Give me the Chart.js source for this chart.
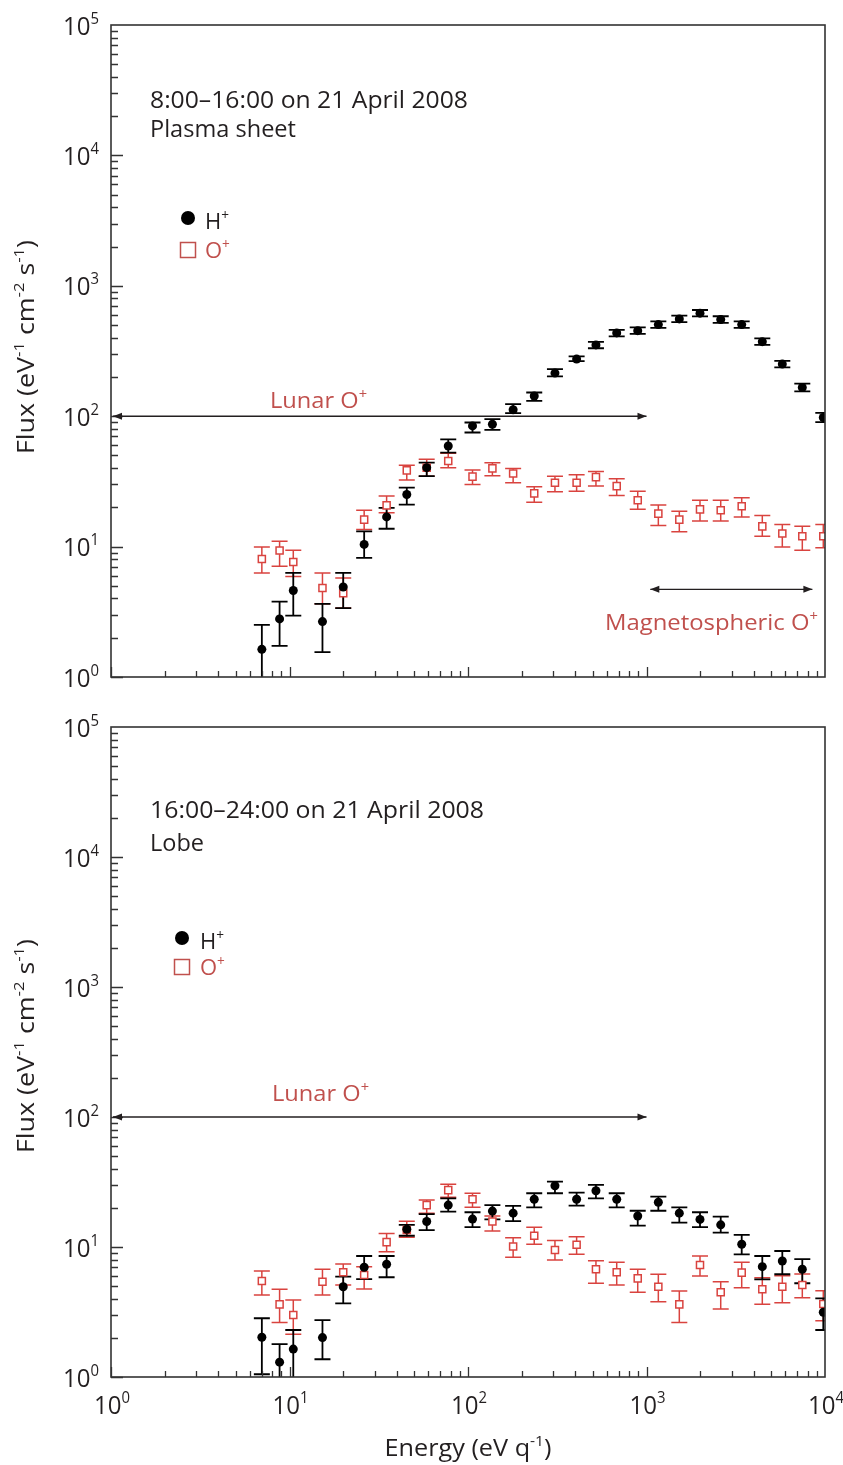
<!DOCTYPE html>
<html>
<head>
<meta charset="utf-8">
<script src="https://cdn.jsdelivr.net/npm/chart.js@4.4.0/dist/chart.umd.min.js"></script>
<style>
html, body { margin: 0; padding: 0; background: #fff; }
#wrap { position: relative; width: 843px; height: 1465px; }
canvas { position: absolute; left: 0; }
</style>
</head>
<body>
<div id="wrap">
  <canvas id="grafico-topo" width="843" height="700" style="top:0"></canvas>
  <canvas id="grafico-baixo" width="843" height="765" style="top:700px"></canvas>
</div>
<script>
// energy channels (eV/q), shared by both panels
var energy = [7.0, 8.8, 10.5, 15.3, 20.0, 26.2, 35.0, 45.4, 58.7, 77.5, 106, 137, 179, 235,
              307, 406, 521, 681, 893, 1165, 1527, 1994, 2605, 3415, 4454, 5766, 7462, 9783];

// 8:00-16:00, plasma sheet
var hTop   = [1.63, 2.79, 4.61, 2.66, 4.9, 10.4, 16.9, 25.1, 40.3, 59.1, 84.2, 86.8, 112, 143,
              214, 274, 352, 435, 453, 504, 557, 617, 551, 504, 373, 251, 166, 97.7];
var hTopLo = [0.8, 1.73, 2.96, 1.55, 3.38, 8.19, 13.7, 21.0, 34.7, 52.6, 75, 78.5, 105.5, 131,
              202, 264, 332, 410, 428, 476, 526, 582, 520, 476, 352, 237, 155, 90];
var hTopHi = [2.51, 3.78, 6.28, 3.64, 6.28, 13.1, 19.8, 28.3, 44, 66.5, 89.5, 94.9, 123.7, 152,
              230, 288, 372, 460, 480, 534, 590, 652, 584, 534, 395, 266, 178, 106];
var oTop   = [8.04, 9.32, 7.63, 4.81, 4.40, 16.1, 20.7, 38.4, 40.3, 45.3, 34.4, 39.8, 36.4, 25.6,
              30.9, 30.9, 34.1, 29.1, 22.7, 17.9, 16.1, 19.3, 19.0, 20.4, 14.3, 12.6, 12.0, 12.0];
var oTopLo = [6.28, 7.06, 5.91, 3.64, 3.38, 13.5, 18.2, 32.4, 34.7, 40.3, 30.0, 35, 30.9, 21.9,
              26.3, 26.6, 29.1, 24.7, 19.3, 14.5, 13.0, 15.7, 15.7, 16.9, 12.0, 9.95, 9.37, 9.78];
var oTopHi = [9.95, 11.0, 9.37, 6.28, 5.74, 19.0, 24.4, 42, 46.7, 51.9, 38.6, 44, 39.8, 28.8,
              34.7, 35.5, 37.6, 33.2, 26.6, 20.8, 18.7, 22.7, 22.7, 23.7, 17.3, 14.8, 14.3, 14.8];

// 16:00-24:00, lobe
var hBot   = [2.02, 1.30, 1.64, 2.01, 4.95, 6.98, 7.36, 13.7, 15.7, 21.0, 16.4, 18.9, 18.2, 23.3,
              29.6, 23.3, 27.1, 23.3, 17.3, 22.1, 18.2, 16.3, 14.8, 10.5, 7.06, 7.8, 6.74, 3.15];
var hBotLo = [1.05, 0.8, 0.8, 1.37, 3.69, 5.67, 5.85, 12.2, 13.5, 18.7, 14.2, 16.3, 15.8, 20.2,
              25.9, 20.8, 23.7, 20.2, 14.6, 19.0, 15.4, 14.2, 12.9, 8.79, 5.64, 6.17, 5.26, 2.30];
var hBotHi = [2.83, 1.79, 2.30, 2.74, 5.91, 8.53, 8.53, 14.8, 17.9, 23.7, 18.5, 21.0, 20.7, 25.9,
              31.8, 26.2, 30.0, 25.9, 19.0, 24.4, 20.2, 18.5, 17.1, 12.4, 8.53, 9.32, 8.08, 4.03];
var oBot   = [5.48, 3.62, 3.0, 5.41, 6.39, 6.09, 10.9, 13.5, 21.0, 27.4, 23.3, 15.7, 10.1, 12.2,
              9.48, 10.4, 6.74, 6.39, 5.74, 4.95, 3.62, 7.27, 4.48, 6.35, 4.73, 4.95, 5.1, 3.64];
var oBotLo = [4.27, 2.62, 2.13, 4.27, 5.1, 4.75, 9.2, 11.9, 18.2, 24.1, 20.2, 13.3, 8.33, 10.5,
              7.94, 8.79, 5.26, 5.1, 4.48, 3.8, 2.62, 5.98, 3.33, 4.86, 3.62, 3.73, 4.07, 2.71];
var oBotHi = [6.54, 4.73, 3.91, 6.74, 7.4, 7.06, 12.7, 15.8, 23.0, 30.4, 25.9, 17.3, 11.8, 14.2,
              11.2, 12.0, 7.85, 7.63, 6.74, 6.17, 4.59, 8.53, 5.41, 7.63, 5.81, 6.01, 6.2, 4.61];

var fluxTicks = [1, 10, 100, 1000, 10000, 100000];
var energyTicks = [1, 10, 100, 1000, 10000];

// arrows: [from eV, to eV, flux]
var lunarArrow = [1, 1000, 100];
var magArrow = [1050, 8500, 4.7];

var FONT = '"Open Sans", "Noto Sans", sans-serif';
var INK = '#231f20';
var RED = '#d9433f';
var RED_TXT = '#c0504d';

// text with superscripts, squeezed to a given width when asked
function drawRich(ctx, parts, x, y, o) {
  var size = o.size, supSize = size * (o.supRatio || 0.62);
  ctx.save();
  ctx.fillStyle = o.color || INK;
  ctx.textBaseline = 'alphabetic';
  ctx.textAlign = 'left';
  var w = 0;
  parts.forEach(function (p) {
    ctx.font = (p[1] ? supSize : size) + 'px ' + FONT;
    w += ctx.measureText(p[0]).width;
  });
  var sx = o.width ? o.width / w : (o.sx || 1);
  ctx.translate(x, y);
  if (o.rotate) ctx.rotate(o.rotate);
  ctx.scale(sx, 1);
  var cx = o.align === 'center' ? -w / 2 : (o.align === 'right' ? -w : 0);
  parts.forEach(function (p) {
    ctx.font = (p[1] ? supSize : size) + 'px ' + FONT;
    ctx.fillText(p[0], cx, p[1] ? -size * 0.42 : 0);
    cx += ctx.measureText(p[0]).width;
  });
  ctx.restore();
}

function arrow(ctx, x1, y1, x2, y2, both) {
  ctx.save();
  ctx.strokeStyle = INK; ctx.fillStyle = INK; ctx.lineWidth = 1.4;
  ctx.beginPath(); ctx.moveTo(x1, y1); ctx.lineTo(x2, y2); ctx.stroke();
  function head(x, y, dir) {
    ctx.beginPath();
    ctx.moveTo(x, y);
    ctx.lineTo(x - dir * 9, y - 3.5);
    ctx.lineTo(x - dir * 9, y + 3.5);
    ctx.closePath(); ctx.fill();
  }
  head(x2, y2, 1);
  if (both) head(x1, y1, -1);
  ctx.restore();
}

function pts(y, lo, hi) {
  return energy.map(function (e, i) { return { x: e, y: y[i], lo: lo[i], hi: hi[i] }; });
}

var errorBars = {
  id: 'errorBars',
  beforeDatasetsDraw: function (chart) {
    var ctx = chart.ctx, a = chart.chartArea, xs = chart.scales.x, ys = chart.scales.y;
    ctx.save();
    ctx.beginPath(); ctx.rect(a.left, a.top, a.right - a.left, a.bottom - a.top); ctx.clip();
    chart.data.datasets.slice().reverse().forEach(function (ds) {
      ctx.strokeStyle = ds.borderColor;
      ctx.lineWidth = ds.errWidth;
      ctx.beginPath();
      ds.data.forEach(function (p) {
        var x = xs.getPixelForValue(p.x);
        var y0 = ys.getPixelForValue(p.lo), y1 = ys.getPixelForValue(p.hi);
        ctx.moveTo(x, y0); ctx.lineTo(x, y1);
        ctx.moveTo(x - 8, y0); ctx.lineTo(x + 8, y0);
        ctx.moveTo(x - 8, y1); ctx.lineTo(x + 8, y1);
      });
      ctx.stroke();
    });
    ctx.restore();
  }
};

var frame = {
  id: 'frame',
  afterDraw: function (chart, args, opts) {
    var ctx = chart.ctx, a = chart.chartArea, xs = chart.scales.x, ys = chart.scales.y;
    ctx.save();
    ctx.strokeStyle = '#333';
    ctx.lineWidth = 1.6;
    ctx.strokeRect(a.left, a.top, a.right - a.left, a.bottom - a.top);
    ctx.lineWidth = 1.3;
    ctx.beginPath();
    var d, m, v, p;
    for (d = 0; d < 5; d++) {
      for (m = 1; m <= 9; m++) {
        v = m * Math.pow(10, d);
        p = Math.round(ys.getPixelForValue(v)) + 0.5;
        ctx.moveTo(a.left, p); ctx.lineTo(a.left + (m === 1 ? 12 : 7), p);
      }
    }
    for (d = 0; d < 4; d++) {
      for (m = 1; m <= 9; m++) {
        v = m * Math.pow(10, d);
        p = Math.round(xs.getPixelForValue(v)) + 0.5;
        ctx.moveTo(p, a.bottom); ctx.lineTo(p, a.bottom - (m === 1 ? 10 : 6));
      }
    }
    ctx.stroke();
    ctx.restore();

    // y tick labels
    fluxTicks.forEach(function (t) {
      var y = ys.getPixelForValue(t);
      drawRich(ctx, [['10', 0], [String(Math.round(Math.log10(t))), 1]], 99, y + 9.5,
        { size: 26, supRatio: 0.62, width: 36, align: 'right' });
    });
    if (opts.xLabels) {
      energyTicks.forEach(function (t) {
        var x = xs.getPixelForValue(t);
        drawRich(ctx, [['10', 0], [String(Math.round(Math.log10(t))), 1]], x + 1, 714,
          { size: 26, supRatio: 0.62, width: 36, align: 'center' });
      });
      drawRich(ctx, [['Energy (eV q', 0], ['-1', 1], [')', 0]], 468, 756,
        { size: 24, width: 167, align: 'center' });
    }

    // y title
    drawRich(ctx, [['Flux (eV', 0], ['-1', 1], [' cm', 0], ['-2', 1], [' s', 0], ['-1', 1], [')', 0]],
      34, opts.titleY, { size: 24, width: 214, align: 'center', rotate: -Math.PI / 2 });

    // panel captions
    opts.lines.forEach(function (l) {
      drawRich(ctx, [[l[0], 0]], l[1], l[2], { size: 23, width: l[3] });
    });

    // legend
    var lg = opts.legend;
    ctx.save();
    ctx.fillStyle = '#000';
    ctx.beginPath(); ctx.arc(lg.x, lg.yH, 7, 0, Math.PI * 2); ctx.fill();
    ctx.strokeStyle = RED_TXT; ctx.lineWidth = 1.5;
    ctx.strokeRect(lg.x - 7.5, lg.yO - 7.5, 15, 15);
    ctx.restore();
    drawRich(ctx, [['H', 0], ['+', 1]], lg.tx, lg.yH + 11, { size: 22, color: INK });
    drawRich(ctx, [['O', 0], ['+', 1]], lg.tx, lg.yO + 8, { size: 22, color: RED_TXT });

    // lunar O+ arrow
    var ax1 = xs.getPixelForValue(lunarArrow[0]) + 2, ax2 = xs.getPixelForValue(lunarArrow[1]);
    var ay = ys.getPixelForValue(lunarArrow[2]);
    arrow(ctx, ax1, ay, ax2, ay, true);
    drawRich(ctx, [['Lunar O', 0], ['+', 1]], opts.lunar[0], opts.lunar[1],
      { size: 22, width: 97, color: RED_TXT });

    if (opts.mag) {
      var mx1 = xs.getPixelForValue(magArrow[0]), mx2 = xs.getPixelForValue(magArrow[1]);
      var my = ys.getPixelForValue(magArrow[2]);
      arrow(ctx, mx1, my, mx2, my, true);
      drawRich(ctx, [['Magnetospheric O', 0], ['+', 1]], 605, 630,
        { size: 22, width: 213, color: RED_TXT });
    }
  }
};

function painel(id, h, o, pad, opts) {
  var ctx = document.getElementById(id).getContext('2d');
  return new Chart(ctx, {
    type: 'scatter',
    data: {
      datasets: [{
        label: 'H+',
        data: pts(h[0], h[1], h[2]),
        pointStyle: 'circle',
        pointRadius: 4.5,
        backgroundColor: '#000',
        borderColor: '#000',
        borderWidth: 0,
        errWidth: 1.8
      }, {
        label: 'O+',
        data: pts(o[0], o[1], o[2]),
        pointStyle: 'rect',
        pointRadius: 5,
        backgroundColor: '#fff',
        borderColor: RED,
        borderWidth: 1.5,
        errWidth: 1.5
      }]
    },
    options: {
      responsive: false,
      animation: false,
      layout: { padding: pad },
      plugins: { legend: { display: false }, tooltip: { enabled: false }, frame: opts },
      scales: {
        x: { type: 'logarithmic', min: 1, max: 10000, display: false },
        y: { type: 'logarithmic', min: 1, max: 100000, display: false }
      }
    },
    plugins: [errorBars, frame]
  });
}

painel('grafico-topo', [hTop, hTopLo, hTopHi], [oTop, oTopLo, oTopHi],
  { left: 111, right: 18, top: 25, bottom: 23 },
  {
    titleY: 347,
    lines: [['8:00\u201316:00 on 21 April 2008', 150, 108, 318], ['Plasma sheet', 150, 137, 146]],
    legend: { x: 188, yH: 218, yO: 250, tx: 205 },
    lunar: [270, 408],
    mag: true,
    xLabels: false
  });

painel('grafico-baixo', [hBot, hBotLo, hBotHi], [oBot, oBotLo, oBotHi],
  { left: 111, right: 18, top: 27, bottom: 88 },
  {
    titleY: 346,
    lines: [['16:00\u201324:00 on 21 April 2008', 150, 118, 334], ['Lobe', 150, 151, 54]],
    legend: { x: 182, yH: 238, yO: 267, tx: 200 },
    lunar: [272, 401],
    mag: false,
    xLabels: true
  });
</script>
</body>
</html>
